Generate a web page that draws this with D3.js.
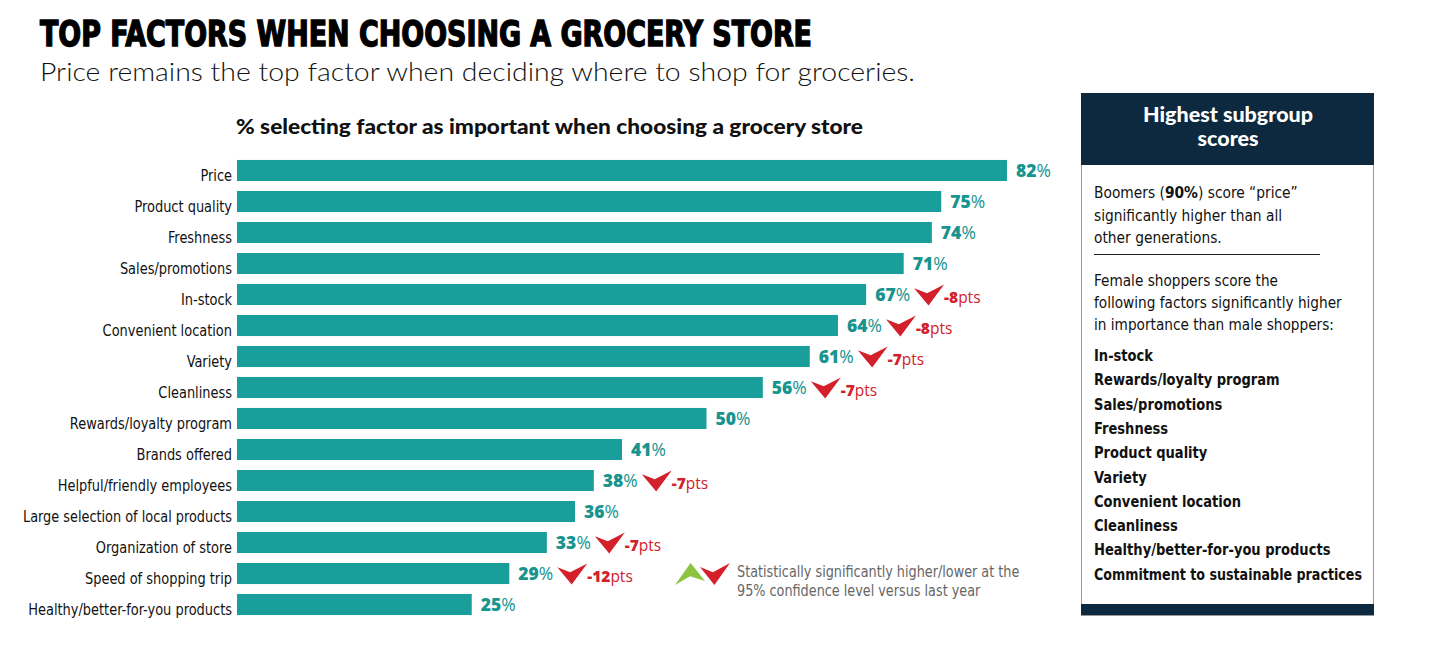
<!DOCTYPE html>
<html><head><meta charset="utf-8">
<script src="https://cdn.jsdelivr.net/npm/d3@7"></script>
<style>body{margin:0;background:#fff}svg{display:block}</style>
</head><body>
<script>
const categories = ["Price","Product quality","Freshness","Sales/promotions","In-stock","Convenient location","Variety","Cleanliness","Rewards/loyalty program","Brands offered","Helpful/friendly employees","Large selection of local products","Organization of store","Speed of shopping trip","Healthy/better-for-you products"];
const values = [82,75,74,71,67,64,61,56,50,41,38,36,33,29,25];
const changes = [null,null,null,null,-8,-8,-7,-7,null,null,-7,null,-7,-12,null];
const panelIntro = ["Boomers (90%) score \u201Cprice\u201D","significantly higher than all","other generations."];
const panelIntro2 = ["Female shoppers score the","following factors significantly higher","in importance than male shoppers:"];
const panelList = ["In-stock","Rewards/loyalty program","Sales/promotions","Freshness","Product quality","Variety","Convenient location","Cleanliness","Healthy/better-for-you products","Commitment to sustainable practices"];
const legendLines = ["Statistically significantly higher/lower at the","95% confidence level versus last year"];

const W=1440,H=645;
const TEAL="#1a9e9c", TEALT="#18948f", RED="#d3202a", GREEN="#8cc43f", NAVY="#0c2940";
const narrow = "'Liberation Sans Narrow','DejaVu Sans Condensed','Liberation Sans',sans-serif";
const svg=d3.select("body").append("svg").attr("width",W).attr("height",H);

function fit(sel,maxW){sel.each(function(){const l=this.getComputedTextLength(); if(l>maxW){d3.select(this).attr("textLength",maxW).attr("lengthAdjust","spacingAndGlyphs");}});}
function squeeze(sel,k){sel.each(function(){const l=this.getComputedTextLength(); d3.select(this).attr("textLength",l*k).attr("lengthAdjust","spacingAndGlyphs");});}

// Title
svg.append("text").attr("x",40).attr("y",46).text("TOP FACTORS WHEN CHOOSING A GROCERY STORE")
  .attr("font-family",narrow).attr("font-weight",900).attr("font-size",36).attr("fill","#000")
  .attr("stroke","#000").attr("stroke-width",1.4)
  .attr("textLength",772).attr("lengthAdjust","spacingAndGlyphs");
svg.append("text").attr("x",40).attr("y",81).text("Price remains the top factor when deciding where to shop for groceries.")
  .attr("font-family","Lato").attr("font-weight",300).attr("font-size",26).attr("fill","#111")
  .attr("textLength",875).attr("lengthAdjust","spacingAndGlyphs");
svg.append("text").attr("x",236).attr("y",134)
  .text("% selecting factor as important when choosing a grocery store")
  .attr("font-family","Lato").attr("font-weight",900).attr("font-size",20.5).attr("fill","#111")
  .attr("textLength",627).attr("lengthAdjust","spacingAndGlyphs");

const x=d3.scaleLinear().domain([0,100]).range([237,237+939]);
const y=d3.scaleBand().domain(categories).range([155,155+15*31]).paddingInner(0.32).paddingOuter(0.16);

const g=svg.append("g");
g.selectAll("rect.bar").data(values).join("rect").attr("class","bar")
  .attr("x",x(0)).attr("y",(d,i)=>y(categories[i])).attr("height",y.bandwidth())
  .attr("width",d=>x(d)-x(0)).attr("fill",TEAL);

// category axis
const ax=svg.append("g").attr("transform",`translate(${x(0)-5},0)`)
  .call(d3.axisLeft(y).tickSize(0).tickPadding(0));
ax.select(".domain").remove();
ax.selectAll("text").attr("font-family",narrow).attr("font-size",16).attr("fill","#111").attr("dy","0.68em");
ax.selectAll("text").call(squeeze,0.9).call(fit,209);

// value labels
const vl=g.selectAll("text.val").data(values).join("text").attr("class","val")
  .attr("x",d=>x(d)+9).attr("y",(d,i)=>y(categories[i])+y.bandwidth()/2+6.5)
  .attr("font-family","'Open Sans'").attr("font-size",17.5).attr("fill",TEALT);
vl.append("tspan").attr("font-weight",800).text(d=>d);
vl.append("tspan").attr("font-weight",400).text("%");

// chevron shapes (unit coordinates, scaled by w,h)
const downPts=[[0,0.18],[0.43,0.42],[1,0],[0.48,1]];
const upPts=[[0,1],[0.5,0.6],[1,0.82],[0.52,0]];
function arrow(sel,pts,left,top,w,h,color){
  sel.append("path").attr("d",d3.line()(pts.map(p=>[left+p[0]*w,top+p[1]*h]))+"Z").attr("fill",color);
}

vl.each(function(d,i){
  if(changes[i]==null) return;
  const end=x(d)+9+this.getComputedTextLength();
  const cy=y(categories[i])+y.bandwidth()/2;
  arrow(g,downPts,end+4,cy-10,30,21,RED);
  const t=g.append("text").attr("x",end+34).attr("y",cy+8).attr("font-family","'Open Sans'").attr("font-size",15.5).attr("fill",RED);
  t.append("tspan").attr("font-weight",800).text(changes[i]);
  t.append("tspan").attr("font-weight",400).text("pts");
});

// legend
arrow(svg,upPts,675,563,30,22,GREEN);
arrow(svg,downPts,700,563,30,22,RED);
legendLines.forEach((s,i)=>svg.append("text").attr("x",737).attr("y",577+i*19).text(s)
  .attr("font-family",narrow).attr("font-size",16).attr("fill","#666").call(squeeze,0.89));

// right panel
const px=1081,pw=292,py=93,ph=522;
svg.append("rect").attr("x",px+0.5).attr("y",py+0.5).attr("width",pw).attr("height",ph).attr("fill","#fff").attr("stroke","#999").attr("stroke-width",1);
svg.append("rect").attr("x",px).attr("y",py).attr("width",pw+1).attr("height",72).attr("fill",NAVY);
svg.append("rect").attr("x",px).attr("y",604).attr("width",pw+1).attr("height",11).attr("fill",NAVY);
["Highest subgroup","scores"].forEach((s,i)=>svg.append("text").attr("x",px+pw/2+1).attr("y",122+i*24).attr("text-anchor","middle")
  .attr("font-family","Lato").attr("font-weight",900).attr("font-size",21.5).attr("fill","#fff").text(s));

const pfont=narrow, tx=1094;
panelIntro.forEach((s,i)=>{
  const gg=svg.append("g").attr("transform",`translate(${tx},${198+i*22.5}) scale(0.93,1)`);
  const t=gg.append("text").attr("x",0).attr("y",0).attr("font-family",pfont).attr("font-size",16.5).attr("fill","#111");
  if(i===0){t.append("tspan").text("Boomers (");t.append("tspan").attr("font-weight",700).text("90%");t.append("tspan").text(") score \u201Cprice\u201D");}
  else t.text(s);
});
svg.append("line").attr("x1",tx).attr("x2",1320).attr("y1",254.5).attr("y2",254.5).attr("stroke","#222").attr("stroke-width",1);
panelIntro2.forEach((s,i)=>svg.append("text").attr("x",tx).attr("y",286+i*22).attr("font-family",pfont).attr("font-size",16.5).attr("fill","#111").text(s).call(squeeze,0.92).call(fit,252));
panelList.forEach((s,i)=>svg.append("text").attr("x",tx).attr("y",361+i*24.3).attr("font-family",pfont).attr("font-weight",700).attr("font-size",16.5).attr("fill","#111").text(s).call(squeeze,0.88).call(fit,268));
</script>
</body></html>
